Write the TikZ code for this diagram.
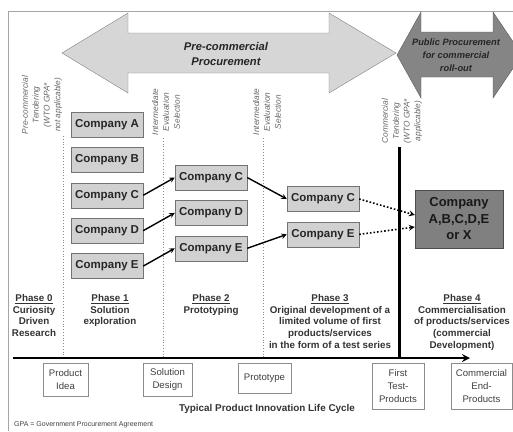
\documentclass[tikz,border=0pt]{standalone}
\usepackage{fontspec}
\setmainfont{Liberation Sans}
\usetikzlibrary{positioning}

\begin{document}
\begin{tikzpicture}[x=1pt,y=-1pt,node distance=10pt,
    comp/.style={draw=black!55,fill=black!18,minimum width=72pt,minimum height=25pt,
      inner sep=0pt,font=\fontsize{11.5}{13}\selectfont\bfseries,text=black!85},
    life/.style={draw=black!45,fill=white,inner sep=0pt,align=center,
      font=\fontsize{9.6}{13}\selectfont,text=black!75},
    phase/.style={anchor=north,align=center,inner sep=0pt,
      font=\fontsize{9.8}{11.8}\selectfont\bfseries,text=black!80},
    vlabel/.style={rotate=90,align=center,inner sep=0pt,
      font=\fontsize{8.3}{10.8}\selectfont\itshape,text=black!60},
    guide/.style={draw=black!45,dotted,thick}]
 \useasboundingbox (0,0) rectangle (513,431);
 \draw[black!35] (513,11) -- (8,11) -- (8,431);
 \draw[draw=black!50,fill=black!16] (62,53) -- (128,13) -- (128,33) -- (329,33) -- (329,13)
   -- (396,53) -- (329,93) -- (329,73) -- (128,73) -- (128,93) -- cycle;
 \draw[draw=black!65,fill=black!48] (397,55) -- (421,12) -- (421,32) -- (493,32) -- (493,12)
   -- (522,55) -- (493,98) -- (493,77) -- (421,77) -- (421,98) -- cycle;
 \node[align=center,font=\fontsize{11.2}{15}\selectfont\bfseries\itshape,text=black!85] (PCP)
  at (226,54) {Pre-commercial\\Procurement};
 \node[align=center,font=\fontsize{9.3}{13}\selectfont\bfseries\itshape,text=black!85] (PPC)
  at (456,55) {Public Procurement\\for commercial\\roll-out};
 \node[vlabel] (T1) at (42,105) {Pre-commercial\\Tendering\\(WTO GPA*\\not applicable)};
 \node[vlabel] (T2) at (166,112) {Intermediate\\Evaluation\\Selection};
 \node[vlabel] (T3) at (267,112) {Intermediate\\Evaluation\\Selection};
 \node[vlabel] (T4) at (402,121) {Commercial\\Tendering\\(WTO GPA*\\applicable)};
 \foreach \X/\Y in {63/136,163/138,263/138} {\draw[guide] (\X,\Y) -- (\X,357);}
 \draw[line width=3pt] (399,147) -- (399,358);
 \draw[line width=2.5pt,-stealth] (13,358) -- (470,358);
 \node[comp] (A1) at (107,124.5) {Company A};
 \node[comp,below=of A1] (B1) {Company B};
 \node[comp,below=of B1] (C1) {Company C};
 \node[comp,below=of C1] (D1) {Company D};
 \node[comp,below=of D1] (E1) {Company E};
 \node[comp] (C2) at (211,177.5) {Company C};
 \node[comp,below=of C2] (D2) {Company D};
 \node[comp,below=of D2] (E2) {Company E};
 \node[comp] (C3) at (323,199) {Company C};
 \node[comp,below=of C3] (E3) {Company E};
 \node[draw=black!70,fill=black!50,minimum width=88pt,minimum height=58pt,inner sep=0pt,
   align=center,font=\fontsize{13}{16.5}\selectfont\bfseries,text=black!90] (X4)
  at (459,219) {Company\\A,B,C,D,E\\or X};
 \path[-stealth,line width=1.4pt] foreach \X in {C,D,E} {(\X1.east) edge (\X2.west)}
   foreach \X in {C,E} {(\X2.east) edge (\X3.west)};
 \draw[-stealth,line width=1.6pt,dotted] (C3.east) -- ([yshift=4pt]X4.west);
 \draw[-stealth,line width=1.6pt,dotted] (E3.east) -- ([yshift=-8pt]X4.west);
 \node[phase] (P0) at (34,294) {\underline{Phase 0}\\Curiosity\\Driven\\Research};
 \node[phase] (P1) at (110,294) {\underline{Phase 1}\\Solution\\exploration};
 \node[phase] (P2) at (211,294) {\underline{Phase 2}\\Prototyping};
 \node[phase] (P3) at (330,294) {\underline{Phase 3}\\Original development of a\\limited volume of first\\products/services\\in the form of a test series};
 \node[phase] (P4) at (462,294) {\underline{Phase 4}\\Commercialisation\\of products/services\\(commercial\\Development)};
 \node[life,minimum width=45pt,minimum height=33pt] (PI) at (65.5,379.5) {Product\\Idea};
 \node[life,minimum width=49pt,minimum height=33pt] (SD) at (167.5,379.5) {Solution\\Design};
 \node[life,minimum width=53pt,minimum height=30pt] (PT) at (264.5,378) {Prototype};
 \node[life,minimum width=52pt,minimum height=46pt] (FT) at (398,386) {First\\Test-\\Products};
 \node[life,minimum width=61pt,minimum height=46pt] (CE) at (481.5,386) {Commercial\\End-\\Products};
 \node[font=\fontsize{9.9}{12}\selectfont\bfseries,text=black!80] (LC) at (267,409)
  {Typical Product Innovation Life Cycle};
 \node[anchor=west,inner sep=0pt,font=\fontsize{7}{8}\selectfont,text=black!75] (GPA)
  at (14,425) {GPA = Government Procurement Agreement};
\end{tikzpicture}
\end{document}
